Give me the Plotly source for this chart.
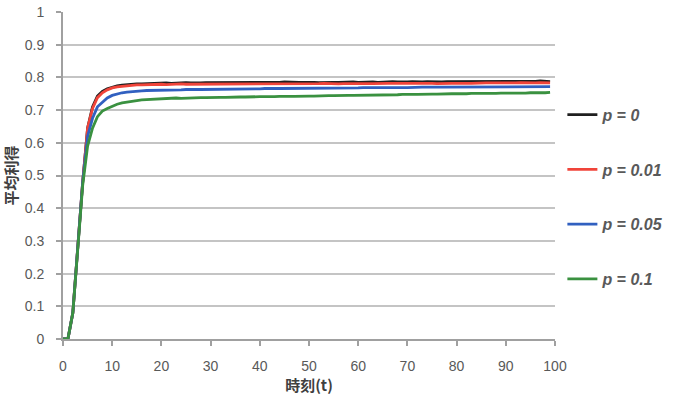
import plotly.graph_objects as go

t = list(range(0, 100))

p0 = [0, 0, 0.08, 0.28, 0.48, 0.645, 0.71, 0.743, 0.757, 0.765,
      0.770, 0.774, 0.776, 0.778, 0.779, 0.780, 0.780, 0.781, 0.781, 0.782,
      0.782, 0.783, 0.782, 0.783, 0.783, 0.784, 0.783, 0.782, 0.783, 0.784,
      0.784, 0.783, 0.784, 0.785, 0.784, 0.783, 0.784, 0.785, 0.784, 0.784,
      0.785, 0.784, 0.785, 0.784, 0.785, 0.786, 0.785, 0.784, 0.785, 0.785,
      0.786, 0.785, 0.784, 0.785, 0.786, 0.785, 0.785, 0.786, 0.785, 0.786,
      0.785, 0.786, 0.787, 0.786, 0.785, 0.786, 0.786, 0.787, 0.786, 0.785,
      0.786, 0.787, 0.786, 0.786, 0.787, 0.786, 0.787, 0.786, 0.787, 0.787,
      0.786, 0.787, 0.788, 0.787, 0.786, 0.787, 0.788, 0.787, 0.787, 0.788,
      0.787, 0.788, 0.787, 0.786, 0.788, 0.787, 0.788, 0.789, 0.788, 0.787]

p001 = [0, 0, 0.08, 0.28, 0.48, 0.645, 0.705, 0.738, 0.753, 0.762,
        0.768, 0.771, 0.773, 0.775, 0.776, 0.777, 0.777, 0.778, 0.778, 0.779,
        0.779, 0.778, 0.779, 0.779, 0.780, 0.779, 0.779, 0.780, 0.779, 0.780,
        0.780, 0.779, 0.780, 0.780, 0.781, 0.780, 0.779, 0.780, 0.781, 0.780,
        0.780, 0.781, 0.780, 0.781, 0.780, 0.781, 0.781, 0.780, 0.781, 0.781,
        0.781, 0.780, 0.781, 0.782, 0.781, 0.781, 0.780, 0.781, 0.782, 0.781,
        0.781, 0.782, 0.781, 0.781, 0.782, 0.781, 0.782, 0.782, 0.781, 0.782,
        0.782, 0.781, 0.782, 0.782, 0.783, 0.782, 0.781, 0.782, 0.783, 0.782,
        0.782, 0.783, 0.782, 0.782, 0.783, 0.782, 0.783, 0.783, 0.782, 0.783,
        0.783, 0.782, 0.783, 0.784, 0.783, 0.782, 0.783, 0.784, 0.783, 0.783]

p005 = [0, 0, 0.08, 0.28, 0.48, 0.62, 0.675, 0.71, 0.725, 0.737,
        0.745, 0.750, 0.753, 0.755, 0.757, 0.758, 0.759, 0.760, 0.760, 0.761,
        0.761, 0.762, 0.761, 0.762, 0.762, 0.763, 0.762, 0.763, 0.763, 0.763,
        0.764, 0.763, 0.764, 0.764, 0.764, 0.765, 0.764, 0.765, 0.765, 0.765,
        0.765, 0.766, 0.765, 0.766, 0.766, 0.766, 0.767, 0.766, 0.767, 0.767,
        0.767, 0.767, 0.768, 0.767, 0.768, 0.768, 0.768, 0.767, 0.768, 0.768,
        0.768, 0.769, 0.768, 0.769, 0.769, 0.768, 0.769, 0.769, 0.770, 0.769,
        0.769, 0.770, 0.769, 0.770, 0.770, 0.769, 0.770, 0.770, 0.770, 0.771,
        0.770, 0.770, 0.771, 0.770, 0.771, 0.771, 0.770, 0.771, 0.771, 0.771,
        0.771, 0.772, 0.771, 0.771, 0.772, 0.771, 0.772, 0.772, 0.771, 0.772]

p01 = [0, 0, 0.08, 0.28, 0.47, 0.59, 0.645, 0.68, 0.697, 0.705,
       0.712, 0.718, 0.722, 0.725, 0.727, 0.729, 0.731, 0.732, 0.733, 0.734,
       0.735, 0.736, 0.736, 0.737, 0.736, 0.737, 0.738, 0.737, 0.738, 0.738,
       0.739, 0.738, 0.739, 0.739, 0.740, 0.739, 0.740, 0.740, 0.741, 0.740,
       0.741, 0.741, 0.740, 0.741, 0.742, 0.741, 0.742, 0.742, 0.743, 0.742,
       0.743, 0.743, 0.744, 0.743, 0.744, 0.744, 0.745, 0.744, 0.745, 0.745,
       0.745, 0.746, 0.745, 0.746, 0.746, 0.747, 0.746, 0.747, 0.747, 0.748,
       0.747, 0.748, 0.748, 0.749, 0.748, 0.749, 0.749, 0.750, 0.749, 0.750,
       0.750, 0.749, 0.750, 0.751, 0.750, 0.751, 0.751, 0.750, 0.751, 0.752,
       0.751, 0.752, 0.752, 0.751, 0.752, 0.753, 0.752, 0.753, 0.753, 0.754]

names = ["p = 0", "p = 0.01", "p = 0.05", "p = 0.1"]
colors = ["#1f1f1f", "#f0443a", "#3160c0", "#3a9140"]
series = [p0, p001, p005, p01]

x_ticks = [0, 10, 20, 30, 40, 50, 60, 70, 80, 90, 100]
y_ticks = [0, 0.1, 0.2, 0.3, 0.4, 0.5, 0.6, 0.7, 0.8, 0.9, 1]
y_labels = ["0", "0.1", "0.2", "0.3", "0.4", "0.5", "0.6", "0.7", "0.8", "0.9", "1"]

fig = go.Figure()
for i, (nm, col, ys) in enumerate(zip(names, colors, series)):
    fig.add_trace(go.Scatter(x=t, y=ys, mode="lines", name=nm, legendgroup=f"g{i}",
                             line=dict(color=col, width=2.8)))

tick_font = dict(family="Liberation Sans, Arial, sans-serif", size=14, color="#595959")
fig.update_layout(
    width=681, height=405,
    margin=dict(l=63, r=123, t=12, b=66),
    plot_bgcolor="white", paper_bgcolor="white",
    showlegend=True,
    legend=dict(x=1.015, y=0.738, xanchor="left", yanchor="top",
                tracegroupgap=31, itemwidth=30,
                font=dict(family="Liberation Sans, Arial, sans-serif", size=16,
                          color="#595959", style="italic", weight="bold"),
                bgcolor="rgba(0,0,0,0)"),
    xaxis=dict(range=[0, 100], tickvals=x_ticks, showgrid=False, zeroline=False,
               showline=True, linecolor="#a0a0a0", linewidth=2,
               ticks="outside", ticklen=5, tickcolor="#a0a0a0", tickwidth=1.5,
               tickfont=tick_font, ticklabelstandoff=8, automargin=False,
               title=dict(text="時刻(t)", standoff=6,
                          font=dict(family="Noto Sans CJK JP, sans-serif", size=15,
                                    color="#404040", weight="bold"))),
    yaxis=dict(range=[0, 1], tickvals=y_ticks, ticktext=y_labels,
               showgrid=True, gridcolor="#c4c4c4", gridwidth=1.5, zeroline=False,
               showline=True, linecolor="#a0a0a0", linewidth=2,
               ticks="outside", ticklen=5, tickcolor="#a0a0a0", tickwidth=1.5,
               tickfont=tick_font, ticklabelstandoff=9, automargin=False,
               title=dict(text="平均利得", standoff=9,
                          font=dict(family="Noto Sans CJK JP, sans-serif", size=15,
                                    color="#404040", weight="bold"))),
)

fig.write_html("out.html")
